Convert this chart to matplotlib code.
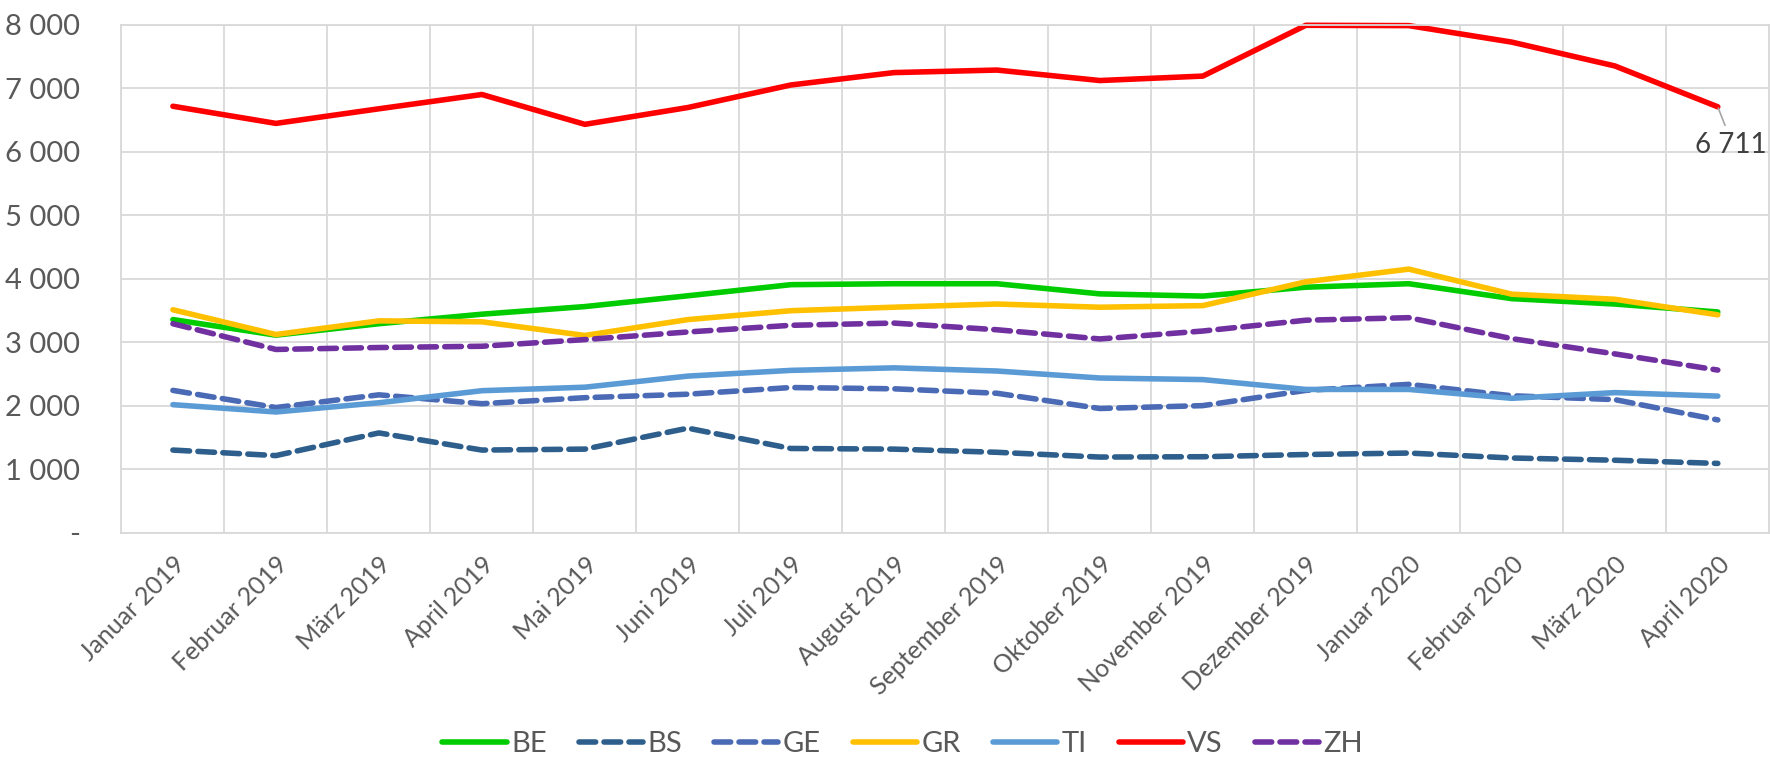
import matplotlib.pyplot as plt
from matplotlib.ticker import FuncFormatter, MultipleLocator
import numpy as np

# data
months = ["Januar 2019", "Februar 2019", "März 2019", "April 2019", "Mai 2019",
          "Juni 2019", "Juli 2019", "August 2019", "September 2019", "Oktober 2019",
          "November 2019", "Dezember 2019", "Januar 2020", "Februar 2020",
          "März 2020", "April 2020"]

be = [3360, 3115, 3295, 3445, 3565, 3735, 3910, 3925, 3925, 3765, 3730, 3870, 3925, 3690, 3605, 3480]
bs = [1305, 1218, 1575, 1305, 1320, 1650, 1330, 1320, 1270, 1195, 1200, 1235, 1258, 1180, 1145, 1095]
ge = [2245, 1975, 2175, 2035, 2130, 2185, 2290, 2270, 2200, 1960, 2005, 2245, 2340, 2160, 2100, 1780]
gr = [3515, 3125, 3340, 3325, 3110, 3360, 3500, 3555, 3605, 3555, 3580, 3955, 4155, 3760, 3680, 3435]
ti = [2020, 1905, 2050, 2240, 2295, 2470, 2560, 2600, 2550, 2440, 2415, 2260, 2260, 2120, 2210, 2155]
vs = [6720, 6450, 6680, 6905, 6435, 6700, 7055, 7250, 7290, 7125, 7195, 7995, 7990, 7730, 7355, 6711]
zh = [3295, 2890, 2920, 2940, 3045, 3165, 3270, 3305, 3200, 3055, 3180, 3350, 3390, 3060, 2820, 2565]

series = [("BE", be, "#00CC00", "-"),
          ("BS", bs, "#2E5F8C", "--"),
          ("GE", ge, "#4A6AB5", "--"),
          ("GR", gr, "#FFC000", "-"),
          ("TI", ti, "#5B9BD5", "-"),
          ("VS", vs, "#FF0000", "-"),
          ("ZH", zh, "#7030A0", "--")]

plt.rcParams['font.family'] = ['Lato', 'DejaVu Sans']
text_color = "#595959"

fig = plt.figure(figsize=(17.7, 7.57), dpi=100)
ax = fig.add_axes([0.0686, 0.296, 0.931, 0.671])

x = np.arange(len(months))
for name, vals, color, ls in series:
    line, = ax.plot(x, vals, color=color, lw=4.0, label=name, clip_on=False,
                    solid_capstyle='round', dash_capstyle='round')
    if ls == "--":
        line.set_dashes((3.0, 1.5))

# data label on the last VS point
ax.annotate(f"{vs[-1]:,}".replace(",", " "), xy=(x[-1], vs[-1]),
            xytext=(x[-1] + 0.13, 6110), ha='center', va='center',
            fontsize=20, color="#404040",
            arrowprops=dict(arrowstyle='-', color='#A6A6A6', lw=1.2,
                            shrinkA=3, shrinkB=1, relpos=(0.45, 1.0)),
            annotation_clip=False)

ax.set_xlim(-0.5, len(months) - 0.5)
ax.set_ylim(0, 8000)
ax.yaxis.set_major_locator(MultipleLocator(1000))
ax.yaxis.set_major_formatter(FuncFormatter(
    lambda v, p: "-" if v == 0 else f"{int(v):,}".replace(",", " ")))

ax.set_xticks(x)
ax.set_xticks(np.arange(-0.5, len(months)), minor=True)
ax.set_xticklabels(months, rotation=45, ha='right', rotation_mode='anchor',
                   fontsize=18, color=text_color)
ax.tick_params(axis='x', which='both', length=0, pad=14)
ax.tick_params(axis='y', length=0, pad=30, labelsize=21, labelcolor=text_color)

ax.grid(True, axis='y', color='#D9D9D9', lw=1.3)
ax.grid(True, axis='x', which='minor', color='#D9D9D9', lw=1.3)
ax.grid(False, axis='x', which='major')
ax.set_axisbelow(True)
for s in ax.spines.values():
    s.set_color('#D9D9D9')
    s.set_linewidth(1.3)

fig.legend(loc='center', bbox_to_anchor=(0.51, 0.017), ncol=7, frameon=False,
           fontsize=21, handlelength=2.2, handletextpad=0.15, columnspacing=1.1,
           labelcolor=text_color)

fig.savefig("out.png", dpi=100)
